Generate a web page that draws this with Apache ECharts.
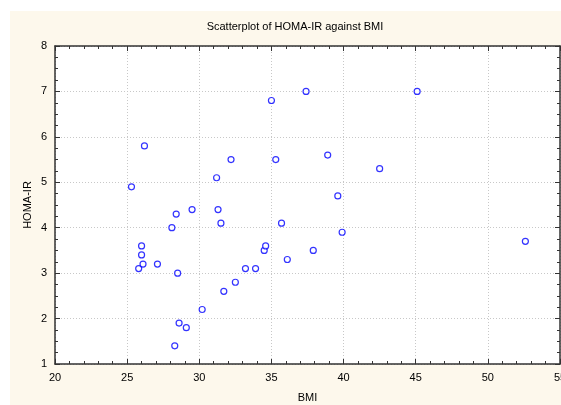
<!DOCTYPE html>
<html lang="en">
<head>
    <meta charset="UTF-8">
    <title>HOMA-IR vs BMI</title>
    <style>
        html, body { margin: 0; padding: 0; background: #fff; }
        #chart { width: 561px; height: 405px; }
    </style>
</head>
<body>
<div id="chart"></div>
<script src="https://cdn.jsdelivr.net/npm/echarts@6/dist/echarts.min.js"></script>
<script>
    // data
    var bmi = [25.3, 26.2, 26.0, 26.0, 25.8, 26.1, 27.1, 28.1, 28.4, 28.5,
               28.6, 29.1, 28.3, 29.5, 30.2, 31.2, 31.3, 31.5, 31.7, 32.2,
               32.5, 33.2, 33.9, 34.5, 34.6, 35.0, 35.3, 35.7, 36.1, 37.4,
               37.9, 38.9, 39.6, 39.9, 42.5, 45.1, 52.6];
    var homa = [4.9, 5.8, 3.6, 3.4, 3.1, 3.2, 3.2, 4.0, 4.3, 3.0,
                1.9, 1.8, 1.4, 4.4, 2.2, 5.1, 4.4, 4.1, 2.6, 5.5,
                2.8, 3.1, 3.1, 3.5, 3.6, 6.8, 5.5, 4.1, 3.3, 7.0,
                3.5, 5.6, 4.7, 3.9, 5.3, 7.0, 3.7];

    var points = bmi.map(function (x, i) { return [x, homa[i]]; });

    var chart = echarts.init(document.getElementById('chart'));

    var font = 'Arial, "Liberation Sans", sans-serif';
    var frame = { show: true, lineStyle: { color: '#333', width: 1.5 } };
    var tickIn = { show: true, inside: true, length: 5, lineStyle: { color: '#333' } };
    var minorIn = { show: true, splitNumber: 5, length: 3, lineStyle: { color: '#333' } };

    chart.setOption({
        backgroundColor: '#fff',
        animation: false,
        textStyle: { fontFamily: font },
        graphic: [{
            type: 'rect', z: -10, silent: true,
            shape: { x: 10, y: 11, width: 551, height: 394 },
            style: { fill: '#fdf8ec' }
        }],
        title: {
            text: 'Scatterplot of HOMA-IR against BMI',
            left: 290, top: 16, textAlign: 'center',
            textStyle: { fontSize: 11, fontWeight: 'normal', color: '#000', fontFamily: font }
        },
        grid: {
            left: 55, right: 1, top: 46, bottom: 41,
            outerBoundsMode: 'none', containLabel: false,
            show: true, backgroundColor: '#fff', borderWidth: 0
        },
        xAxis: [{
            type: 'value', min: 20, max: 55, interval: 5,
            name: 'BMI', nameLocation: 'middle', nameGap: 28,
            nameTextStyle: { fontSize: 11, color: '#000', fontFamily: font },
            axisLine: frame, axisTick: tickIn, minorTick: minorIn,
            axisLabel: { fontSize: 11, color: '#000', margin: 8, fontFamily: font, hideOverlap: false },
            splitLine: { show: true, lineStyle: { color: '#c8c8c8', type: [1, 2] } }
        }, {
            type: 'value', min: 20, max: 55, interval: 5, position: 'top',
            axisLine: frame, axisTick: tickIn, minorTick: minorIn,
            axisLabel: { show: false }, splitLine: { show: false }
        }],
        yAxis: [{
            type: 'value', min: 1, max: 8, interval: 1,
            name: 'HOMA-IR', nameLocation: 'middle', nameGap: 22, nameMoveOverlap: false,
            nameTextStyle: { fontSize: 11, color: '#000', fontFamily: font },
            axisLine: frame, axisTick: tickIn,
            minorTick: { show: true, splitNumber: 4, length: 3, lineStyle: { color: '#333' } },
            axisLabel: { fontSize: 11, color: '#000', margin: 8, fontFamily: font },
            splitLine: { show: true, lineStyle: { color: '#c8c8c8', type: [1, 2] } }
        }, {
            type: 'value', min: 1, max: 8, interval: 1, position: 'right',
            axisLine: frame, axisTick: tickIn,
            minorTick: { show: true, splitNumber: 4, length: 3, lineStyle: { color: '#333' } },
            axisLabel: { show: false }, splitLine: { show: false }
        }],
        series: [{
            type: 'scatter',
            data: points,
            symbol: 'circle',
            symbolSize: 6,
            itemStyle: { color: '#fff', borderColor: '#0000ff', borderWidth: 1.2 }
        }]
    });
</script>
</body>
</html>
